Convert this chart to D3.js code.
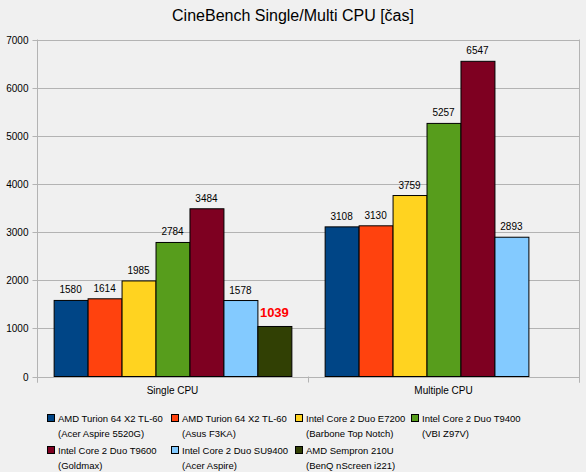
<!DOCTYPE html>
<html><head><meta charset="utf-8">
<script src="https://cdn.jsdelivr.net/npm/d3@7"></script>
<style>body{margin:0;background:#f0f0f0}svg{display:block}text{font-family:"Liberation Sans",Arial,sans-serif}</style>
</head><body><div id="c"></div>
<script>
const title = "CineBench Single/Multi CPU [čas]";
const categories = ["Single CPU", "Multiple CPU"];
const seriesNames = [
  ["AMD Turion 64 X2 TL-60", "(Acer Aspire 5520G)"],
  ["AMD Turion 64 X2 TL-60", "(Asus F3KA)"],
  ["Intel Core 2 Duo E7200", "(Barbone Top Notch)"],
  ["Intel Core 2 Duo T9400", "(VBI Z97V)"],
  ["Intel Core 2 Duo T9600", "(Goldmax)"],
  ["Intel Core 2 Duo SU9400", "(Acer Aspire)"],
  ["AMD Sempron 210U", "(BenQ nScreen i221)"]
];
const seriesColors = ["#004586","#ff420e","#ffd320","#579d1c","#7e0021","#83caff","#314004"];
const singleValues = [1580, 1614, 1985, 2784, 3484, 1578, 1039];
const multiValues = [3108, 3130, 3759, 5257, 6547, 2893, null];
const yTicks = [0,1000,2000,3000,4000,5000,6000,7000];
const highlightIndex = 6;

(function(){
const W = 586, H = 472;
const svg = d3.select("#c").append("svg").attr("width", W).attr("height", H);
svg.append("rect").attr("width", W).attr("height", H).attr("fill", "#f0f0f0");

const pLeft = 37, pRight = 579, pTop = 39.5, pBottom = 376.5;
const y = d3.scaleLinear().domain([0, 7000]).range([pBottom, pTop]);
const x0 = d3.scaleBand().domain(categories).range([pLeft, pRight]).paddingInner(0).paddingOuter(0);
const x1 = d3.scaleBand().domain(d3.range(seriesNames.length)).range([0, x0.bandwidth()]).paddingInner(0).paddingOuter(0.49);

svg.append("text").attr("x", W/2).attr("y", 21).attr("text-anchor", "middle")
  .attr("font-size", 16).attr("fill", "#000").text(title);

// gridlines
svg.append("g").selectAll("line").data(yTicks).join("line")
  .attr("x1", pLeft).attr("x2", pRight)
  .attr("y1", d => Math.round(y(d)) + 0.5).attr("y2", d => Math.round(y(d)) + 0.5)
  .attr("stroke", "#b3b3b3").attr("stroke-width", 1);

// y axis
const yAxis = d3.axisLeft(y).tickValues(yTicks).tickSize(5).tickPadding(4).tickFormat(d3.format("d"));
const ga = svg.append("g").attr("transform", `translate(${pLeft+0.5},0)`).call(yAxis);
ga.select(".domain").attr("stroke", "#b3b3b3").attr("d", `M0,${pTop}V${pBottom+6}`);
ga.selectAll(".tick line").attr("stroke", "#b3b3b3");
ga.selectAll(".tick text").attr("font-size", 10).attr("fill", "#000").attr("font-family", "Liberation Sans, Arial, sans-serif");
ga.selectAll(".tick").attr("transform", d => `translate(0,${Math.round(y(d))+0.5})`);

// right border
svg.append("line").attr("x1", pRight+0.5).attr("x2", pRight+0.5).attr("y1", pTop).attr("y2", pBottom+6).attr("stroke", "#b3b3b3");

// x axis
const xb = svg.append("g");
xb.append("line").attr("x1", pLeft).attr("x2", pRight).attr("y1", Math.round(pBottom)+0.5).attr("y2", Math.round(pBottom)+0.5).attr("stroke", "#b3b3b3");
const bounds = [pLeft, x0(categories[1]), pRight];
xb.selectAll("line.t").data(bounds).join("line").attr("class","t")
  .attr("x1", d => Math.round(d)+0.5).attr("x2", d => Math.round(d)+0.5)
  .attr("y1", pBottom).attr("y2", pBottom+6).attr("stroke", "#b3b3b3");
xb.selectAll("text").data(categories).join("text")
  .attr("x", d => x0(d) + x0.bandwidth()/2).attr("y", 394)
  .attr("text-anchor", "middle").attr("font-size", 10).attr("fill", "#000").text(d => d);

// bars
const data = [];
categories.forEach((c, ci) => {
  const vals = ci === 0 ? singleValues : multiValues;
  vals.forEach((v, si) => { if (v != null) data.push({c, si, v}); });
});
const g = svg.append("g");
g.selectAll("rect").data(data).join("rect")
  .attr("x", d => x0(d.c) + x1(d.si) + 0.5)
  .attr("y", d => y(d.v))
  .attr("width", x1.bandwidth())
  .attr("height", d => pBottom - y(d.v))
  .attr("fill", d => seriesColors[d.si])
  .attr("stroke", "#000").attr("stroke-width", 1);

g.selectAll("text").data(data).join("text")
  .attr("x", d => x0(d.c) + x1(d.si) + x1.bandwidth()/2)
  .attr("y", d => y(d.v) - (d.si === highlightIndex ? 9 : 7))
  .attr("text-anchor", "middle")
  .attr("font-size", d => d.si === highlightIndex ? 13 : 10)
  .attr("font-weight", d => d.si === highlightIndex ? "bold" : "normal")
  .attr("fill", d => d.si === highlightIndex ? "#ff0000" : "#000")
  .text(d => d.v);

// legend
const colX = [47, 171, 295, 411];
const rowY = [414, 446];
const lg = svg.append("g");
seriesNames.forEach((nm, i) => {
  const cx = colX[i % 4], ry = rowY[Math.floor(i / 4)];
  lg.append("rect").attr("x", cx + 0.5).attr("y", ry + 0.5).attr("width", 7).attr("height", 7)
    .attr("fill", seriesColors[i]).attr("stroke", "#000").attr("stroke-width", 1);
  lg.append("text").attr("x", cx + 11).attr("y", ry + 8).attr("font-size", 9.5).attr("fill", "#000").text(nm[0]);
  lg.append("text").attr("x", cx + 11).attr("y", ry + 23).attr("font-size", 9.5).attr("fill", "#000").text(nm[1]);
});
})();
</script></body></html>
